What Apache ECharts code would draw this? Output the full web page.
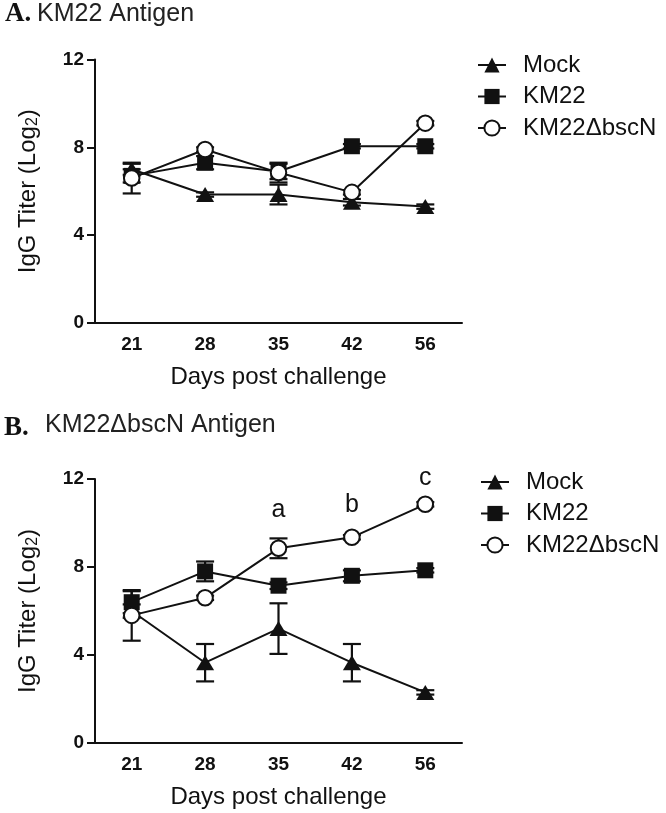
<!DOCTYPE html>
<html>
<head>
<meta charset="utf-8">
<script src="https://cdn.jsdelivr.net/npm/echarts@6/dist/echarts.min.js"></script>
<style>
html,body{margin:0;padding:0;background:#fff;}
#chart{width:666px;height:813px;}
</style>
</head>
<body>
<div id="chart"></div>
<script>
// ---- data ----
var categories = ['21', '28', '35', '42', '56'];
var seriesNames = ['Mock', 'KM22', 'KM22\u0394bscN'];

// Panel A: KM22 antigen
var A_mock = [7.0, 5.85, 5.85, 5.5, 5.3];
var A_mockErr = [0.25, 0.1, 0.45, 0.15, 0.1];
var A_km22 = [6.7, 7.3, 6.9, 8.05, 8.05];
var A_km22Err = [0.3, 0.3, 0.35, 0.1, 0.1];
var A_bscN = [6.6, 7.9, 6.85, 5.95, 9.1];
var A_bscNErr = [0.7, 0.1, 0.45, 0.1, 0.1];

// Panel B: KM22ΔbscN antigen
var B_mock = [6.0, 3.65, 5.2, 3.65, 2.3];
var B_mockErr = [0.3, 0.85, 1.15, 0.85, 0.1];
var B_km22 = [6.4, 7.8, 7.15, 7.6, 7.85];
var B_km22Err = [0.5, 0.45, 0.15, 0.25, 0.1];
var B_bscN = [5.8, 6.6, 8.85, 9.35, 10.85];
var B_bscNErr = [1.15, 0.1, 0.45, 0.1, 0.1];

// significance letters (panel B) and the value height they sit at
var sigLetters = ['', '', 'a', 'b', 'c'];
var sigHeights = [null, null, 10.6, 10.8, 12.05];

var yTicks = [0, 4, 8, 12];

// ---- helpers ----
var SANS = 'Liberation Sans';
var BLACK = '#111';

function errData(vals, errs) {
  return vals.map(function (v, i) { return [i, v - errs[i], v + errs[i]]; });
}
function errSeries(vals, errs, gi) {
  return {
    type: 'custom', xAxisIndex: gi, yAxisIndex: gi, z: 1, silent: true,
    data: errData(vals, errs),
    encode: { x: 0, y: [1, 2] },
    renderItem: function (params, api) {
      var lo = api.coord([api.value(0), api.value(1)]);
      var hi = api.coord([api.value(0), api.value(2)]);
      var hw = 9;
      var st = { stroke: BLACK, lineWidth: 2.2 };
      return {
        type: 'group',
        children: [
          { type: 'line', shape: { x1: lo[0], y1: lo[1], x2: hi[0], y2: hi[1] }, style: st },
          { type: 'line', shape: { x1: lo[0] - hw, y1: lo[1], x2: lo[0] + hw, y2: lo[1] }, style: st },
          { type: 'line', shape: { x1: hi[0] - hw, y1: hi[1], x2: hi[0] + hw, y2: hi[1] }, style: st }
        ]
      };
    }
  };
}
var symbolDefs = [
  { symbol: 'triangle', size: [18, 15] },
  { symbol: 'rect', size: 16 },
  { symbol: 'emptyCircle', size: 15.5 }
];
function lineSeries(idx, vals, gi) {
  var d = symbolDefs[idx];
  return {
    name: seriesNames[idx], type: 'line', xAxisIndex: gi, yAxisIndex: gi,
    data: vals, symbol: d.symbol, symbolSize: d.size, z: 3,
    showAllSymbol: true,
    lineStyle: { color: BLACK, width: 2 },
    itemStyle: { color: BLACK, borderColor: BLACK, borderWidth: d.symbol === 'emptyCircle' ? 2.5 : 0, opacity: 1 },
    emphasis: { disabled: true },
    animation: false
  };
}
function xAxisDef(gi) {
  return {
    type: 'category', gridIndex: gi, data: categories, boundaryGap: true,
    name: 'Days post challenge', nameLocation: 'middle', nameGap: 42,
    nameTextStyle: { fontFamily: SANS, fontSize: 24, color: BLACK },
    axisLine: { lineStyle: { color: BLACK, width: 2 } },
    axisTick: { alignWithLabel: true, length: 8, lineStyle: { color: BLACK, width: 2 } },
    axisLabel: { fontFamily: SANS, fontSize: 19, fontWeight: 'bold', color: BLACK, margin: 12 },
    splitLine: { show: false }
  };
}
function yAxisDef(gi) {
  return {
    type: 'value', gridIndex: gi, min: yTicks[0], max: yTicks[yTicks.length - 1], interval: 4,
    name: '{n|IgG Titer (Log}{s|2}{n|)}', nameLocation: 'middle', nameGap: 54, nameRotate: 90,
    nameTextStyle: {
      color: BLACK,
      rich: {
        n: { fontFamily: SANS, fontSize: 24, color: BLACK, lineHeight: 26 },
        s: { fontFamily: SANS, fontSize: 16, color: BLACK, lineHeight: 26, verticalAlign: 'bottom', padding: [12, 0, 0, 0] }
      }
    },
    axisLine: { show: true, lineStyle: { color: BLACK, width: 2 } },
    axisTick: { show: true, length: 8, lineStyle: { color: BLACK, width: 2 } },
    axisLabel: { fontFamily: SANS, fontSize: 19, fontWeight: 'bold', color: BLACK, margin: 11 },
    splitLine: { show: false }
  };
}
function legendDef(left, top) {
  return {
    orient: 'vertical', left: left, top: top, padding: 0,
    itemWidth: 28, itemHeight: 19, itemGap: 7.5,
    data: seriesNames,
    selectedMode: false,
    textStyle: { fontFamily: SANS, fontSize: 24, color: BLACK, lineHeight: 24, padding: [0, 0, 0, 12] }
  };
}

var option = {
  backgroundColor: '#fff',
  animation: false,
  title: [
    { text: 'A.', left: 5, top: 1, padding: 0, textStyle: { fontFamily: 'Liberation Serif', fontWeight: 'bold', fontSize: 27, color: BLACK, lineHeight: 27 } },
    { text: 'KM22 Antigen', left: 37, top: 2, padding: 0, textStyle: { fontFamily: SANS, fontWeight: 'normal', fontSize: 25, color: '#222', lineHeight: 25 } },
    { text: 'B.', left: 4, top: 415, padding: 0, textStyle: { fontFamily: 'Liberation Serif', fontWeight: 'bold', fontSize: 27, color: BLACK, lineHeight: 27 } },
    { text: 'KM22\u0394bscN Antigen', left: 45, top: 413, padding: 0, textStyle: { fontFamily: SANS, fontWeight: 'normal', fontSize: 25, color: '#222', lineHeight: 25 } }
  ],
  legend: [legendDef(477, 53), legendDef(480, 470)],
  grid: [
    { left: 95, top: 59.5, width: 367, height: 263.5 },
    { left: 95, top: 479, width: 367, height: 264 }
  ],
  xAxis: [xAxisDef(0), xAxisDef(1)],
  yAxis: [yAxisDef(0), yAxisDef(1)],
  series: [
    errSeries(A_mock, A_mockErr, 0),
    errSeries(A_km22, A_km22Err, 0),
    errSeries(A_bscN, A_bscNErr, 0),
    lineSeries(0, A_mock, 0),
    lineSeries(1, A_km22, 0),
    lineSeries(2, A_bscN, 0),
    errSeries(B_mock, B_mockErr, 1),
    errSeries(B_km22, B_km22Err, 1),
    errSeries(B_bscN, B_bscNErr, 1),
    lineSeries(0, B_mock, 1),
    lineSeries(1, B_km22, 1),
    lineSeries(2, B_bscN, 1),
    {
      type: 'scatter', xAxisIndex: 1, yAxisIndex: 1, symbolSize: 0, clip: false, silent: true,
      itemStyle: { opacity: 1 },
      data: sigHeights.map(function (h, i) { return h === null ? null : [i, h, sigLetters[i]]; }).filter(function (d) { return d; }),
      label: {
        show: true, position: 'inside', fontFamily: SANS, fontSize: 25, color: BLACK, opacity: 1,
        formatter: function (p) { return p.data[2]; }
      }
    }
  ]
};
var chart = echarts.init(document.getElementById('chart'), null, { renderer: 'canvas' });
chart.setOption(option);
</script>
</body>
</html>
